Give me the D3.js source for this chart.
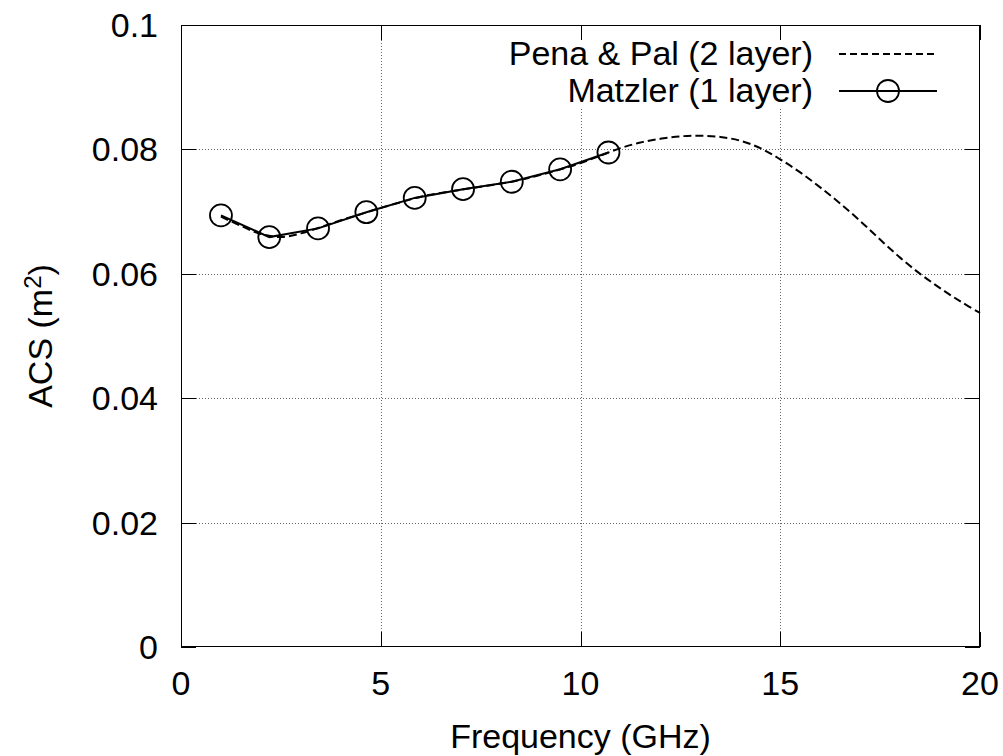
<!DOCTYPE html>
<html>
<head>
<meta charset="utf-8">
<script src="https://cdn.jsdelivr.net/npm/d3@7"></script>
<style>
  body { margin: 0; background: #fff; }
  svg { display: block; font-family: "Liberation Sans", Arial, sans-serif; }
</style>
</head>
<body>
<svg id="chart" width="1003" height="756"></svg>
<script>
// Data
const matzlerFreq = [1.0, 2.21, 3.43, 4.64, 5.85, 7.06, 8.28, 9.49, 10.7];
const matzlerAcs = [0.0694, 0.0659, 0.0673, 0.0699, 0.0722, 0.0736, 0.0748, 0.0768, 0.0795];

const penaFreq = [1.0, 1.5, 2.0, 2.5, 3.0, 3.5, 4.0, 4.5, 5.0, 5.5, 6.0, 6.5, 7.0, 7.5, 8.0, 8.5, 9.0, 9.5, 10.0,
  10.5, 11.0, 11.5, 12.0, 12.5, 13.0, 13.5, 14.0, 14.5, 15.0, 15.5, 16.0, 16.5, 17.0, 17.5, 18.0, 18.5, 19.0, 19.5, 20.0];
const penaAcs = [0.0692, 0.0677, 0.0664, 0.0659, 0.0665, 0.0675, 0.0686, 0.0696, 0.0706, 0.0715, 0.0724, 0.0730,
  0.0735, 0.0740, 0.0745, 0.0751, 0.0759, 0.0768, 0.0778, 0.0790, 0.0802, 0.0811, 0.0817, 0.0821, 0.0822, 0.0820,
  0.0814, 0.0802, 0.0784, 0.0763, 0.0739, 0.0713, 0.0685, 0.0655, 0.0626, 0.0600, 0.0577, 0.0556, 0.0537];

const xTicks = [0, 5, 10, 15, 20];
const yTicks = [0, 0.02, 0.04, 0.06, 0.08, 0.1];
const yTickLabels = ['0', '0.02', '0.04', '0.06', '0.08', '0.1'];
const legendLabels = ['Pena & Pal (2 layer)', 'Matzler (1 layer)'];

// Layout
const svg = d3.select('#chart');
const margin = { top: 25, left: 181 };
const width = 799;
const height = 622;
const fontSize = 34;

const x = d3.scaleLinear().domain([0, 20]).range([0, width]);
const y = d3.scaleLinear().domain([0, 0.1]).range([height, 0]);

const g = svg.append('g')
  .attr('transform', `translate(${margin.left},${margin.top})`);

// Grid
const grid = g.append('g')
  .attr('stroke', '#666')
  .attr('stroke-width', 1)
  .attr('stroke-dasharray', '1,2');
grid.selectAll('.gx')
  .data(xTicks.slice(1, -1))
  .enter().append('line')
  .attr('x1', (d) => Math.round(x(d)) + 0.5)
  .attr('x2', (d) => Math.round(x(d)) + 0.5)
  .attr('y1', 0)
  .attr('y2', height);
grid.selectAll('.gy')
  .data(yTicks.slice(1, -1))
  .enter().append('line')
  .attr('x1', 0)
  .attr('x2', width)
  .attr('y1', (d) => Math.round(y(d)) + 0.5)
  .attr('y2', (d) => Math.round(y(d)) + 0.5);

// Opaque key area (hides grid behind legend)
g.append('rect')
  .attr('x', 310)
  .attr('y', 15)
  .attr('width', 460)
  .attr('height', 68)
  .attr('fill', '#fff');

// Ticks (inward, mirrored)
const tickLen = 15;
const axisG = g.append('g').attr('stroke', '#000').attr('stroke-width', 1);
xTicks.forEach((t) => {
  const px = Math.round(x(t)) + 0.5;
  axisG.append('line').attr('x1', px).attr('x2', px).attr('y1', height).attr('y2', height - tickLen);
  axisG.append('line').attr('x1', px).attr('x2', px).attr('y1', 0).attr('y2', tickLen);
});
yTicks.forEach((t) => {
  const py = Math.round(y(t)) + 0.5;
  axisG.append('line').attr('x1', 0).attr('x2', tickLen).attr('y1', py).attr('y2', py);
  axisG.append('line').attr('x1', width).attr('x2', width - tickLen).attr('y1', py).attr('y2', py);
});

// Frame
g.append('rect')
  .attr('x', 0.5)
  .attr('y', 0.5)
  .attr('width', width - 1)
  .attr('height', height - 1)
  .attr('fill', 'none')
  .attr('stroke', '#000')
  .attr('stroke-width', 1);

// Tick labels
g.selectAll('.xl')
  .data(xTicks)
  .enter().append('text')
  .attr('x', (d) => x(d))
  .attr('y', height + 48)
  .attr('text-anchor', 'middle')
  .attr('font-size', fontSize)
  .text((d) => d);

g.selectAll('.yl')
  .data(yTicks)
  .enter().append('text')
  .attr('x', -23)
  .attr('y', (d) => y(d) + 12)
  .attr('text-anchor', 'end')
  .attr('font-size', fontSize)
  .text((d, i) => yTickLabels[i]);

// Axis titles
svg.append('text')
  .attr('x', margin.left + width / 2)
  .attr('y', 748)
  .attr('text-anchor', 'middle')
  .attr('font-size', fontSize)
  .text('Frequency (GHz)');

const yTitle = svg.append('text')
  .attr('transform', `translate(52,${margin.top + height / 2}) rotate(-90)`)
  .attr('text-anchor', 'middle')
  .attr('font-size', fontSize);
yTitle.append('tspan').text('ACS (m');
yTitle.append('tspan').attr('font-size', 24).attr('baseline-shift', '45%').text('2');
yTitle.append('tspan').text(')');

// Series
const penaData = penaFreq.map((f, i) => [f, penaAcs[i]]);
const matzlerData = matzlerFreq.map((f, i) => [f, matzlerAcs[i]]);

const line = d3.line()
  .x((d) => x(d[0]))
  .y((d) => y(d[1]));

g.append('path')
  .datum(penaData)
  .attr('fill', 'none')
  .attr('stroke', '#000')
  .attr('stroke-width', 2)
  .attr('stroke-dasharray', '8,4')
  .attr('d', line.curve(d3.curveCatmullRom));

g.append('path')
  .datum(matzlerData)
  .attr('fill', 'none')
  .attr('stroke', '#000')
  .attr('stroke-width', 2)
  .attr('d', line.curve(d3.curveLinear));

g.selectAll('.pt')
  .data(matzlerData)
  .enter().append('circle')
  .attr('cx', (d) => x(d[0]))
  .attr('cy', (d) => y(d[1]))
  .attr('r', 11)
  .attr('fill', 'none')
  .attr('stroke', '#000')
  .attr('stroke-width', 1.8);

// Legend
const legend = svg.append('g');
const rows = [54, 91];
legendLabels.forEach((label, i) => {
  legend.append('text')
    .attr('x', 813)
    .attr('y', rows[i] + 11)
    .attr('text-anchor', 'end')
    .attr('font-size', fontSize)
    .text(label);
  const l = legend.append('line')
    .attr('x1', 839)
    .attr('x2', 937)
    .attr('y1', rows[i])
    .attr('y2', rows[i])
    .attr('stroke', '#000')
    .attr('stroke-width', 2);
  if (i === 0) l.attr('stroke-dasharray', '7,4');
});
legend.append('circle')
  .attr('cx', 888)
  .attr('cy', rows[1])
  .attr('r', 11)
  .attr('fill', 'none')
  .attr('stroke', '#000')
  .attr('stroke-width', 1.8);
</script>
</body>
</html>
